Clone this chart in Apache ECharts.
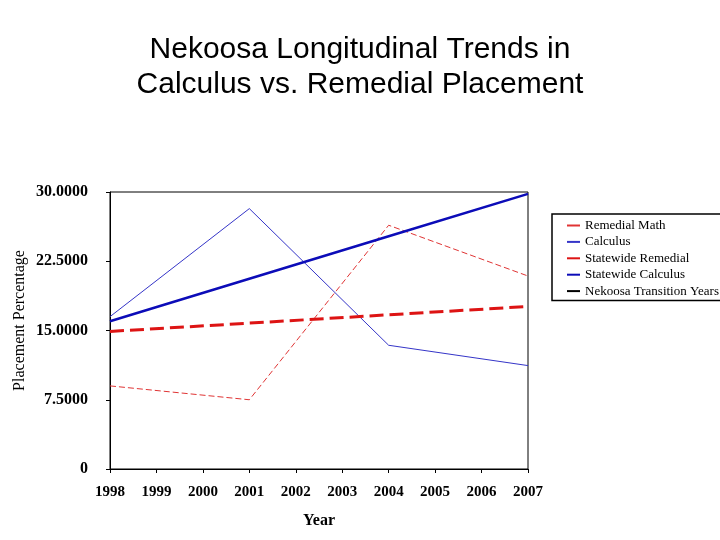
<!DOCTYPE html>
<html>
<head>
<meta charset="utf-8">
<script src="https://cdn.jsdelivr.net/npm/echarts@6/dist/echarts.min.js"></script>
<style>html,body{margin:0;padding:0;background:#fff}#c{width:720px;height:540px}</style>
</head>
<body>
<div id="c"></div>
<script>
var years = ['1998','1999','2000','2001','2002','2003','2004','2005','2006','2007'];
var remedialMath = [9.0, null, null, 7.5, null, null, 26.4, null, null, 20.9];
var calculus = [16.5, null, null, 28.2, null, null, 13.4, null, null, 11.2];
var statewideRemedial = [14.9, null, null, 15.8, null, null, 16.7, null, null, 17.6];
var statewideCalculus = [16.0, null, null, 20.6, null, null, 25.2, null, null, 29.8];
var transitionYears = [];
var yTicks = [0, 7.5, 15, 22.5, 30];

var serif = "'Liberation Serif','Times New Roman',serif";
var chart = echarts.init(document.getElementById('c'));
chart.setOption({
  animation: false,
  backgroundColor: '#fff',
  title: {
    text: 'Nekoosa Longitudinal Trends in\nCalculus vs. Remedial Placement',
    left: 'center',
    top: 27,
    textStyle: {fontFamily: "'Liberation Sans',Arial,sans-serif", fontSize: 30, fontWeight: 'normal', color: '#000', lineHeight: 35}
  },
  legend: {
    orient: 'vertical',
    left: 552,
    top: 214,
    itemWidth: 13,
    itemHeight: 12,
    itemGap: 3.4,
    padding: [5, 10, 3, 14],
    borderColor: '#000',
    borderWidth: 1.5,
    itemStyle: {opacity: 0},
    textStyle: {fontFamily: serif, fontSize: 13, color: '#000'},
    data: [
      {name: 'Remedial Math', lineStyle: {type: 'solid'}},
      {name: 'Calculus', lineStyle: {type: 'solid'}},
      {name: 'Statewide Remedial', lineStyle: {type: 'solid'}},
      {name: 'Statewide Calculus', lineStyle: {type: 'solid'}},
      {name: 'Nekoosa Transition Years', lineStyle: {type: 'solid'}}
    ]
  },
  grid: {left: 110, right: 192, top: 192, bottom: 71, show: true, borderColor: '#000', borderWidth: 1},
  xAxis: {
    type: 'category',
    data: years,
    boundaryGap: false,
    name: 'Year',
    nameLocation: 'middle',
    nameGap: 44,
    nameTextStyle: {fontFamily: serif, fontSize: 16, fontWeight: 'bold', color: '#000'},
    axisLine: {lineStyle: {color: '#000', width: 1}},
    axisTick: {inside: false, length: 4, lineStyle: {color: '#000'}},
    axisLabel: {fontFamily: serif, fontSize: 15, fontWeight: 'bold', color: '#000', margin: 16, interval: 0},
    splitLine: {show: false}
  },
  yAxis: {
    type: 'value',
    min: yTicks[0],
    max: yTicks[yTicks.length - 1],
    interval: yTicks[1] - yTicks[0],
    name: 'Placement Percentage',
    nameLocation: 'middle',
    nameRotate: 90,
    nameGap: 82,
    nameMoveOverlap: false,
    nameTextStyle: {fontFamily: serif, fontSize: 16, color: '#000', padding: [0, 0, 0, 20]},
    axisLine: {show: true, lineStyle: {color: '#000', width: 1}},
    axisTick: {show: true, length: 4, lineStyle: {color: '#000'}},
    axisLabel: {
      fontFamily: serif, fontSize: 16, fontWeight: 'bold', color: '#000', margin: 22,
      formatter: function (v) { return v === 0 ? '0' : v.toFixed(4); }
    },
    splitLine: {show: false}
  },
  series: [
    {name: 'Remedial Math', type: 'line', data: remedialMath, connectNulls: true, symbol: 'none',
     lineStyle: {color: '#e03434', width: 1, type: [6, 3]}, itemStyle: {color: '#e03434'}},
    {name: 'Calculus', type: 'line', data: calculus, connectNulls: true, symbol: 'none',
     lineStyle: {color: '#3535c8', width: 1}, itemStyle: {color: '#3535c8'}},
    {name: 'Statewide Remedial', type: 'line', data: statewideRemedial, connectNulls: true, symbol: 'none',
     lineStyle: {color: '#dd1414', width: 3, type: [14, 6]}, itemStyle: {color: '#dd1414'}},
    {name: 'Statewide Calculus', type: 'line', data: statewideCalculus, connectNulls: true, symbol: 'none',
     lineStyle: {color: '#0c0cb8', width: 2.5}, itemStyle: {color: '#0c0cb8'}},
    {name: 'Nekoosa Transition Years', type: 'line', data: transitionYears, symbol: 'none',
     lineStyle: {color: '#000', width: 1}, itemStyle: {color: '#000'}}
  ]
});
</script>
</body>
</html>
